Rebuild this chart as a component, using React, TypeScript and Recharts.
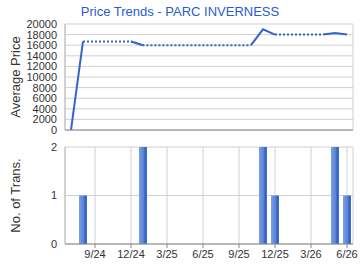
import React from "react";
import {
  LineChart,
  Line,
  BarChart,
  Bar,
  XAxis,
  YAxis,
  CartesianGrid,
} from "recharts";

// Jul 2024 .. Jun 2026, one entry per month
const months = [
  "7/24", "8/24", "9/24", "10/24", "11/24", "12/24",
  "1/25", "2/25", "3/25", "4/25", "5/25", "6/25",
  "7/25", "8/25", "9/25", "10/25", "11/25", "12/25",
  "1/26", "2/26", "3/26", "4/26", "5/26", "6/26",
];

// solid segments (months with a new price)
const priceSolid = [
  0, 16700, null, null, null, 16700,
  16000, null, null, null, null, null,
  null, null, null, 16000, 19000, 18000,
  null, null, null, 18000, 18300, 18000,
];

// dotted segments (price carried forward)
const priceDotted = [
  null, 16700, 16700, 16700, 16700, 16700,
  16000, 16000, 16000, 16000, 16000, 16000,
  16000, 16000, 16000, 16000, null, 18000,
  18000, 18000, 18000, 18000, null, null,
];

const transCount = [
  0, 1, 0, 0, 0, 0,
  2, 0, 0, 0, 0, 0,
  0, 0, 0, 0, 2, 1,
  0, 0, 0, 0, 2, 1,
];

const tickIdx = [2, 5, 8, 11, 14, 17, 20, 23];
const priceTicks = [0, 2000, 4000, 6000, 8000, 10000, 12000, 14000, 16000, 18000, 20000];

const data = months.map((m, i) => ({
  idx: i,
  month: m,
  solid: priceSolid[i],
  dotted: priceDotted[i],
  count: transCount[i],
}));

const font = "'Liberation Sans', Arial, sans-serif";
const tickStyle = { fontSize: 11, fill: "#333", fontFamily: font };
const labelStyle = { fontSize: 13, fill: "#333", fontFamily: font, textAnchor: "middle" as const };
const blue = "#3366cc";

export default function App() {
  return (
    <div style={{ position: "absolute", left: 0, top: 0, width: 360, height: 270, background: "#fff" }}>
      <div
        style={{
          position: "absolute",
          top: 4,
          left: 0,
          width: 360,
          textAlign: "center",
          fontFamily: font,
          fontSize: 13,
          color: "#2a5bd0",
        }}
      >
        Price Trends - PARC INVERNESS
      </div>
      <div style={{ position: "absolute", top: 0, left: 0 }}>
        <LineChart width={360} height={140} data={data} margin={{ top: 24, right: 7, bottom: 0, left: 0 }}>
          <CartesianGrid stroke="#d0d0d0" strokeWidth={1} />
          <XAxis
            dataKey="idx"
            type="number"
            domain={[-0.5, 23.5]}
            ticks={tickIdx}
            tick={false}
            tickLine={false}
            height={10}
            axisLine={{ stroke: "#888" }}
          />
          <YAxis
            domain={[0, 20000]}
            ticks={priceTicks}
            interval={0}
            width={65}
            tick={tickStyle}
            tickLine={false}
            axisLine={{ stroke: "#bbb" }}
            label={{
              value: "Average Price",
              angle: -90,
              position: "insideLeft",
              offset: 15,
              style: labelStyle,
            }}
          />
          <Line
            type="linear"
            dataKey="dotted"
            stroke={blue}
            strokeWidth={2}
            strokeDasharray="2 2"
            dot={false}
            connectNulls={false}
            isAnimationActive={false}
          />
          <Line
            type="linear"
            dataKey="solid"
            stroke={blue}
            strokeWidth={2}
            dot={false}
            connectNulls={false}
            isAnimationActive={false}
          />
        </LineChart>
      </div>
      <div style={{ position: "absolute", top: 140, left: 0 }}>
        <BarChart width={360} height={130} data={data} margin={{ top: 7, right: 7, bottom: 0, left: 0 }}>
          <defs>
            <linearGradient id="barGrad" x1="0" y1="0" x2="1" y2="0">
              <stop offset="0%" stopColor="#7d9fe0" />
              <stop offset="55%" stopColor="#5b85d8" />
              <stop offset="80%" stopColor="#2d5fc8" />
              <stop offset="100%" stopColor="#4a76d4" />
            </linearGradient>
          </defs>
          <CartesianGrid stroke="#d0d0d0" strokeWidth={1} />
          <XAxis
            dataKey="idx"
            type="number"
            domain={[-0.5, 23.5]}
            ticks={tickIdx}
            interval={0}
            tickFormatter={(v: number) => months[v]}
            tick={tickStyle}
            tickSize={4}
            tickLine={{ stroke: "#888" }}
            axisLine={{ stroke: "#888" }}
            height={26}
          />
          <YAxis
            domain={[0, 2]}
            ticks={[0, 1, 2]}
            interval={0}
            width={65}
            tick={tickStyle}
            tickLine={false}
            axisLine={{ stroke: "#bbb" }}
            label={{
              value: "No. of Trans.",
              angle: -90,
              position: "insideLeft",
              offset: 15,
              style: labelStyle,
            }}
          />
          <Bar dataKey="count" barSize={8} fill="url(#barGrad)" isAnimationActive={false} />
        </BarChart>
      </div>
    </div>
  );
}
